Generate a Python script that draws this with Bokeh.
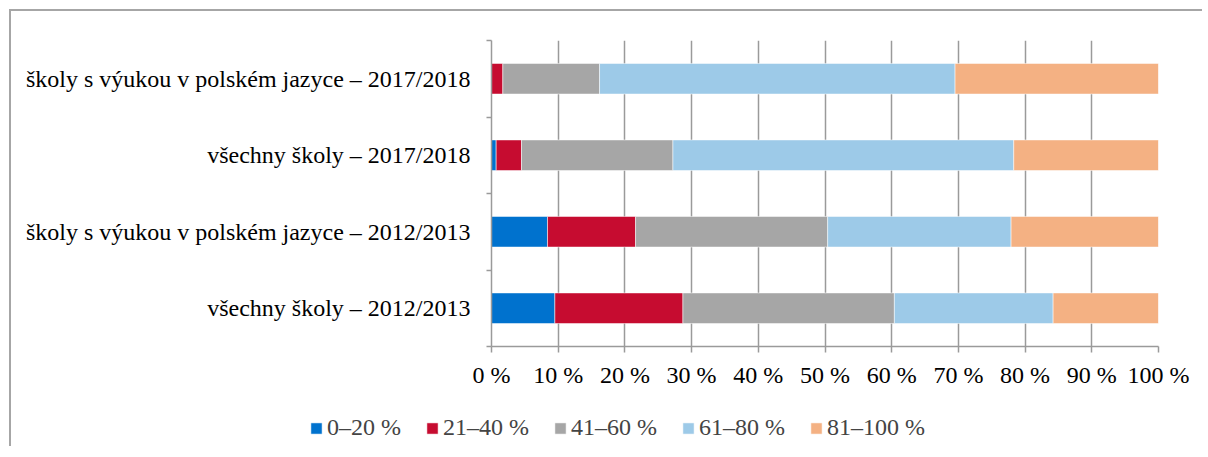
from bokeh.plotting import figure
from bokeh.layouts import column
from bokeh.models import FixedTicker, Legend, LegendItem, Range1d, ColumnDataSource
from bokeh.embed import file_html
from bokeh.resources import INLINE

categories = [
    "všechny školy – 2012/2013",
    "školy s výukou v polském jazyce – 2012/2013",
    "všechny školy – 2017/2018",
    "školy s výukou v polském jazyce – 2017/2018",
]
series = ["0–20 %", "21–40 %", "41–60 %", "61–80 %", "81–100 %"]
s_0_20 = [9.5, 8.4, 0.7, 0.0]
s_21_40 = [19.2, 13.2, 3.8, 1.7]
s_41_60 = [31.7, 28.8, 22.7, 14.5]
s_61_80 = [23.8, 27.5, 51.1, 53.3]
s_81_100 = [15.8, 22.1, 21.7, 30.5]
colors = ["#0072CE", "#C60C30", "#A6A6A6", "#9DCAE8", "#F4B183"]
x_ticks = [0, 10, 20, 30, 40, 50, 60, 70, 80, 90, 100]
x_tick_labels = ["0 %", "10 %", "20 %", "30 %", "40 %", "50 %", "60 %", "70 %", "80 %", "90 %", "100 %"]

FONT = "Liberation Serif"
FS = "24px"

y_pos = [i + 0.5 for i in range(len(categories))]
keys = ["a", "b", "c", "d", "e"]
src = ColumnDataSource(dict(y=y_pos, a=s_0_20, b=s_21_40, c=s_41_60, d=s_61_80, e=s_81_100))

p = figure(frame_width=667, frame_height=306, output_backend="svg", toolbar_location=None,
           x_range=Range1d(0, 100), y_range=Range1d(0, len(categories)),
           min_border_left=480, min_border_right=44, min_border_top=29, min_border_bottom=45)

p.hbar_stack(keys, y="y", height=0.4, color=colors, source=src,
             line_color="white", line_alpha=0.5, line_width=1)

p.outline_line_color = None
p.background_fill_color = "white"
p.border_fill_color = "white"

# x axis
p.xaxis.ticker = FixedTicker(ticks=x_ticks)
p.xaxis.major_label_overrides = {t: l for t, l in zip(x_ticks, x_tick_labels)}
p.xaxis.major_label_text_font = FONT
p.xaxis.major_label_text_font_size = FS
p.xaxis.major_label_text_color = "black"
p.xaxis.axis_line_color = "#9A9A9A"
p.xaxis.axis_line_width = 1.5
p.xaxis.major_tick_line_color = "#9A9A9A"
p.xaxis.major_tick_line_width = 1.5
p.xaxis.major_tick_out = 6
p.xaxis.major_tick_in = 0
p.xaxis.minor_tick_line_color = None
p.xaxis.major_label_standoff = 9

# y axis
p.yaxis.ticker = FixedTicker(ticks=y_pos, minor_ticks=list(range(len(categories) + 1)))
p.yaxis.major_label_overrides = {y: c for y, c in zip(y_pos, categories)}
p.yaxis.major_label_text_font = FONT
p.yaxis.major_label_text_font_size = FS
p.yaxis.major_label_text_color = "black"
p.yaxis.axis_line_color = "#9A9A9A"
p.yaxis.axis_line_width = 1.5
p.yaxis.major_tick_line_color = None
p.yaxis.major_tick_out = 0
p.yaxis.major_tick_in = 0
p.yaxis.minor_tick_line_color = "#9A9A9A"
p.yaxis.minor_tick_line_width = 1.5
p.yaxis.minor_tick_out = 5
p.yaxis.minor_tick_in = 0
p.yaxis.major_label_standoff = 16

p.xgrid.ticker = FixedTicker(ticks=x_ticks)
p.xgrid.grid_line_color = "#9A9A9A"
p.xgrid.grid_line_width = 1.5
p.ygrid.grid_line_color = None

# legend strip below the chart
lf = figure(width=1191, height=55, output_backend="svg", toolbar_location=None,
            x_range=Range1d(0, 1), y_range=Range1d(0, 1),
            x_axis_location=None, y_axis_location=None, min_border=0)
lf.outline_line_color = None
lf.grid.visible = False
lf.background_fill_color = "white"
lf.border_fill_color = "white"

legend_x = 298
if "frame_align" in lf.properties():
    lf.frame_align = False
    p.frame_align = False
else:
    legend_x = 0

# swatch-only renderers (placed outside the visible range) that feed the legend
dummy = ColumnDataSource(dict(y=[-5.0], right=[0.0]))
legend_renderers = [lf.hbar(y="y", right="right", height=0.4, color=c, source=dummy,
                            line_color="white", line_alpha=0.5, line_width=1) for c in colors]
legend = Legend(items=[LegendItem(label=s, renderers=[r]) for s, r in zip(series, legend_renderers)],
                orientation="horizontal", location=(legend_x, 5), nrows=1,
                label_text_font=FONT, label_text_font_size=FS,
                glyph_width=14, glyph_height=14, label_standoff=4, spacing=24,
                border_line_color=None, background_fill_alpha=0, padding=0, margin=0)
lf.add_layout(legend, "center")

layout = column(p, lf, spacing=0)
layout.styles = {"border-top": "2px solid #A6A6A6", "border-left": "2px solid #A6A6A6",
                 "margin-left": "9px", "margin-top": "9px"}

open("out.html", "w").write(file_html(layout, INLINE))
